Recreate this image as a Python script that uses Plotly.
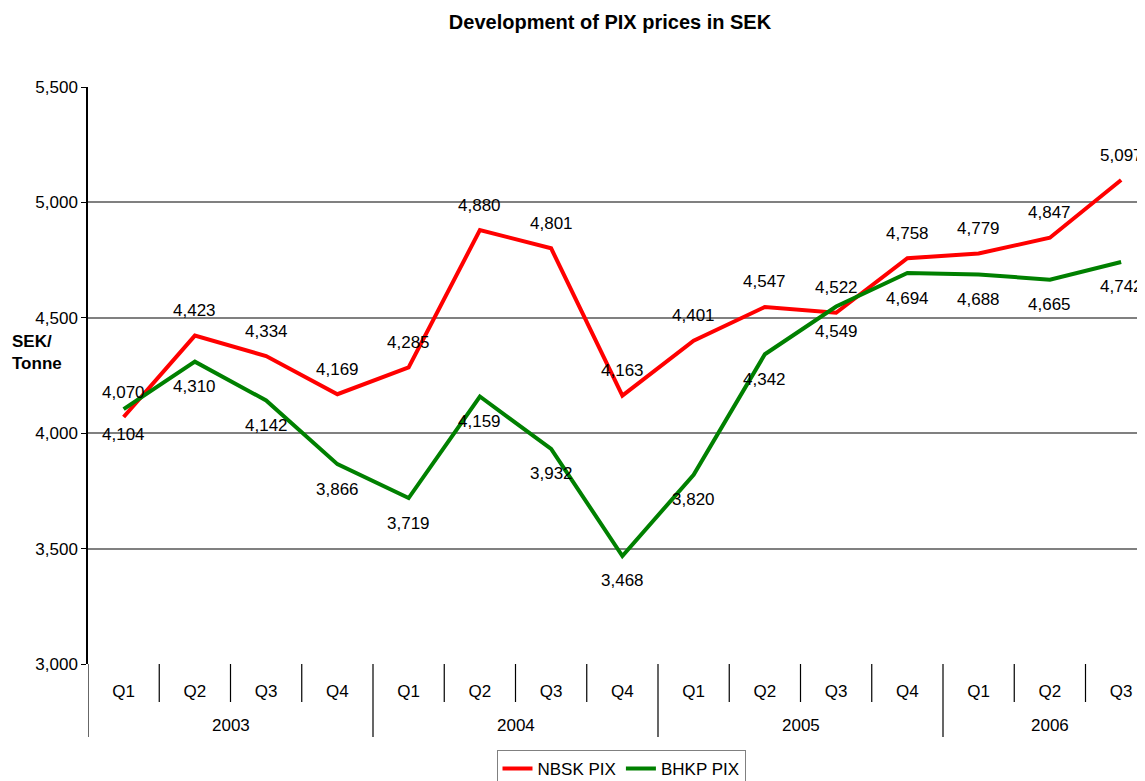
import plotly.graph_objects as go

quarters = ["Q1", "Q2", "Q3", "Q4", "Q1", "Q2", "Q3", "Q4",
            "Q1", "Q2", "Q3", "Q4", "Q1", "Q2", "Q3"]
years = ["2003"] * 4 + ["2004"] * 4 + ["2005"] * 4 + ["2006"] * 3
nbsk = [4070, 4423, 4334, 4169, 4285, 4880, 4801, 4163,
        4401, 4547, 4522, 4758, 4779, 4847, 5097]
bhkp = [4104, 4310, 4142, 3866, 3719, 4159, 3932, 3468,
        3820, 4342, 4549, 4694, 4688, 4665, 4742]
y_ticks = [3000, 3500, 4000, 4500, 5000, 5500]

# page has an 8px body margin; figure sized to fill the window exactly
OFF = 8
W, H = 1145 - OFF, 781 - OFF
L = 88 - OFF
T = 87 - OFF
PB = 664 - OFF          # plot bottom in figure px
B = H - PB
plot_h = PB - T
plot_w = W - L
cat_px = 71.25
x_max = -0.5 + plot_w / cat_px

FONT = "Liberation Sans, Arial, sans-serif"
idx = list(range(len(quarters)))


def px_x(xr):  # reference page x -> paper x
    return (xr - OFF - L) / plot_w


def px_y(yr):  # reference page y -> paper y
    return (PB - (yr - OFF)) / plot_h


fig = go.Figure()
fig.add_trace(go.Scatter(x=idx, y=nbsk, mode="lines", name="NBSK PIX",
                         line=dict(color="#FF0000", width=4)))
fig.add_trace(go.Scatter(x=idx, y=bhkp, mode="lines", name="BHKP PIX",
                         line=dict(color="#008000", width=4)))

annotations = []
for i, v in zip(idx, nbsk):
    annotations.append(dict(x=i, y=v, xref="x", yref="y", text=f"{v:,}",
                            showarrow=False, yshift=25,
                            font=dict(size=17, color="black", family=FONT)))
for i, v in zip(idx, bhkp):
    annotations.append(dict(x=i, y=v, xref="x", yref="y", text=f"{v:,}",
                            showarrow=False, yshift=-25,
                            font=dict(size=17, color="black", family=FONT)))

shapes = []
groups = []
for i, yr in enumerate(years):
    if not groups or groups[-1][0] != yr:
        groups.append([yr, i, i])
    else:
        groups[-1][2] = i
for yr, a, b in groups:
    annotations.append(dict(x=(a + b) / 2, y=px_y(725), xref="x", yref="paper",
                            text=yr, showarrow=False, yanchor="middle",
                            font=dict(size=17, color="black", family=FONT)))
    shapes.append(dict(type="line", xref="x", yref="paper", x0=a - 0.5, x1=a - 0.5,
                       y0=0, y1=px_y(737), line=dict(color="black", width=1.2)))
for i in idx[1:]:
    if years[i] == years[i - 1]:
        shapes.append(dict(type="line", xref="x", yref="paper", x0=i - 0.5, x1=i - 0.5,
                           y0=0, y1=px_y(702), line=dict(color="black", width=1.2)))

annotations.append(dict(x=px_x(10), y=px_y(352), xref="paper", yref="paper",
                        text="<b>SEK/<br>Tonne</b>", showarrow=False, xanchor="left",
                        yanchor="middle", align="left",
                        font=dict(size=17, color="black", family=FONT)))

fig.update_layout(
    width=W, height=H,
    margin=dict(l=L, r=0, t=T, b=B, autoexpand=False),
    paper_bgcolor="white", plot_bgcolor="white",
    font=dict(family=FONT, size=17, color="black"),
    title=dict(text="<b>Development of PIX prices in SEK</b>", xref="container", yref="container",
               x=(610 - OFF) / W, y=1 - (22 - OFF) / H, xanchor="center", yanchor="middle",
               font=dict(size=20, color="black", family=FONT)),
    xaxis=dict(range=[-0.5, x_max], tickmode="array", tickvals=idx, ticktext=quarters,
               showgrid=False, zeroline=False, showline=False,
               ticks="outside", ticklen=12, tickcolor="rgba(0,0,0,0)",
               tickfont=dict(size=17, color="black", family=FONT)),
    yaxis=dict(range=[3000, 5500], tickmode="array", tickvals=y_ticks, tickformat=",",
               showgrid=True, gridcolor="#808080", gridwidth=1.5, zeroline=False,
               showline=True, linecolor="black", linewidth=1.5,
               ticks="outside", ticklen=5, tickcolor="black",
               tickfont=dict(size=17, color="black", family=FONT)),
    legend=dict(orientation="h", x=px_x(621), xanchor="center",
                y=px_y(750), yanchor="top",
                bordercolor="#808080", borderwidth=1,
                font=dict(size=17, color="black", family=FONT)),
    annotations=annotations,
    shapes=shapes,
)

fig.write_html("out.html")
